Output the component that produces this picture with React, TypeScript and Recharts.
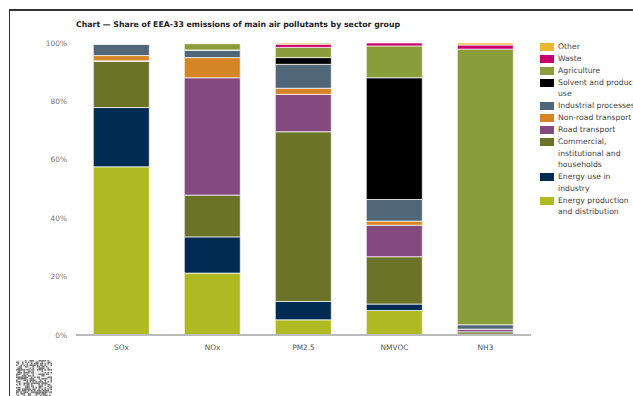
import React from 'react';
import { BarChart, Bar, XAxis, YAxis } from 'recharts';

// Pollutants on the x axis
const pollutants = ['SOx', 'NOx', 'PM2.5', 'NMVOC', 'NH3'];

// Share (%) of each pollutant by sector group, bottom of the stack first
const energyProduction = [57.6, 21.2, 5.2, 8.4, 0.1];
const energyIndustry = [20.3, 12.4, 6.3, 2.2, 0.2];
const commercial = [15.8, 14.3, 58.1, 16.2, 0.8];
const roadTransport = [0.2, 40.2, 12.8, 10.8, 0.8];
const nonRoadTransport = [1.8, 6.9, 2.1, 1.4, 0.1];
const industrialProcesses = [3.9, 2.5, 8.2, 7.4, 1.5];
const solventUse = [0, 0.1, 2.3, 41.7, 0];
const agriculture = [0.1, 2.2, 3.5, 10.9, 94.4];
const waste = [0.1, 0.1, 1.1, 1.0, 1.4];
const other = [0.1, 0.1, 0.4, 0, 0.7];

const yTicks = [0, 20, 40, 60, 80, 100];

const series = [
  { key: 'energyProduction', name: 'Energy production and distribution', color: '#afba22', values: energyProduction },
  { key: 'energyIndustry', name: 'Energy use in industry', color: '#022b53', values: energyIndustry },
  { key: 'commercial', name: 'Commercial, institutional and households', color: '#6b7329', values: commercial },
  { key: 'roadTransport', name: 'Road transport', color: '#844a80', values: roadTransport },
  { key: 'nonRoadTransport', name: 'Non-road transport', color: '#d68526', values: nonRoadTransport },
  { key: 'industrialProcesses', name: 'Industrial processes', color: '#506779', values: industrialProcesses },
  { key: 'solventUse', name: 'Solvent and product use', color: '#000000', values: solventUse },
  { key: 'agriculture', name: 'Agriculture', color: '#8b9c3b', values: agriculture },
  { key: 'waste', name: 'Waste', color: '#c8006e', values: waste },
  { key: 'other', name: 'Other', color: '#e8b833', values: other },
];

const data = pollutants.map((p, i) => {
  const row: Record<string, string | number> = { pollutant: p };
  series.forEach(s => {
    row[s.key] = s.values[i];
  });
  return row;
});

const FONT = '"DejaVu Sans", Verdana, sans-serif';

// legend is listed top-down, i.e. reverse of stacking order
const LegendBox = () => (
  <div style={{ position: 'absolute', left: 540, top: 41, width: 120, fontFamily: FONT, fontSize: 7.7, color: '#444', lineHeight: '11.4px' }}>
    {[...series].reverse().map(s => (
      <div key={s.key} style={{ display: 'flex', alignItems: 'flex-start', marginBottom: 0.6, whiteSpace: 'nowrap' }}>
        <span style={{ width: 14, height: 8, background: s.color, marginTop: 2, flexShrink: 0 }} />
        <span style={{ marginLeft: 4, whiteSpace: 'normal', width: 82 }}>{s.name}</span>
      </div>
    ))}
  </div>
);

// small square code pattern in the footer
const CodeMark = () => {
  const cells: JSX.Element[] = [];
  const n = 24;
  for (let r = 0; r < n; r++) {
    for (let c = 0; c < n; c++) {
      const v = Math.sin(r * 12.9898 + c * 78.233) * 43758.5453;
      if (v - Math.floor(v) > 0.5) {
        cells.push(<rect key={`${r}-${c}`} x={c * 1.5} y={r * 1.5} width={1.5} height={1.5} fill="#777" />);
      }
    }
  }
  return (
    <svg style={{ position: 'absolute', left: 16, top: 360 }} width={36} height={36}>
      <rect width={36} height={36} fill="#eee" />
      {cells}
    </svg>
  );
};

const App: React.FC = () => {
  return (
    <div style={{ position: 'absolute', left: 0, top: 0, width: 633, height: 396, overflow: 'hidden', background: '#fff' }}>
      <div style={{ position: 'absolute', left: 9, top: 9, width: 700, height: 500, borderTop: '2px solid #333', borderLeft: '1.5px solid #333' }} />
      <div style={{ position: 'absolute', left: 76, top: 20, fontFamily: FONT, fontWeight: 'bold', fontSize: 7.8, color: '#222', whiteSpace: 'nowrap' }}>
        Chart — Share of EEA-33 emissions of main air pollutants by sector group
      </div>
      <div style={{ position: 'absolute', left: 0, top: 0 }}>
        <BarChart
          width={633}
          height={396}
          data={data}
          margin={{ top: 43, right: 102, left: 26, bottom: 41 }}
          barCategoryGap="19%"
        >
          <XAxis
            dataKey="pollutant"
            axisLine={{ stroke: '#bbb', strokeWidth: 2 }}
            tickLine={false}
            height={20}
            tick={{ fontSize: 7.4, fill: '#555', fontFamily: FONT }}
            tickMargin={4}
          />
          <YAxis
            domain={[0, 100]}
            ticks={yTicks}
            width={50}
            axisLine={false}
            tickLine={false}
            tickMargin={3}
            tickFormatter={(v: number) => `${v}%`}
            tick={{ fontSize: 7.4, fill: '#777', fontFamily: FONT }}
          />
          {series.map(s => (
            <Bar
              key={s.key}
              dataKey={s.key}
              name={s.name}
              stackId="a"
              fill={s.color}
              stroke="#fff"
              strokeWidth={0.7}
              isAnimationActive={false}
            />
          ))}
        </BarChart>
      </div>
      <LegendBox />
      <CodeMark />
    </div>
  );
};

export default App;
